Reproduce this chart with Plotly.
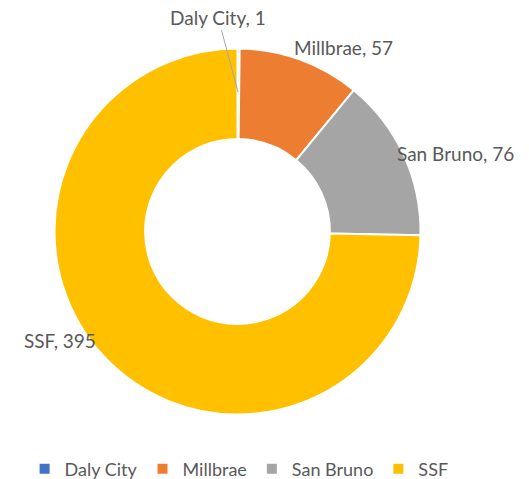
import plotly.graph_objects as go

cities = ["Daly City", "Millbrae", "San Bruno", "SSF"]
counts = [1, 57, 76, 395]
colors = ["#4472C4", "#ED7D31", "#A5A5A5", "#FFC000"]

# label placement (pixel centres in the 529x479 page)
label_pos = [(218, 17), (343, 47), (455, 153), (60, 340)]

W, H = 529, 479
cx, cy, R = 237.5, 231.5, 183
FONT = "Lato, Carlito, Calibri, sans-serif"
GREY = "#595959"

fig = go.Figure(go.Pie(
    labels=cities,
    values=counts,
    hole=0.505,
    sort=False,
    direction="clockwise",
    rotation=0,
    marker=dict(colors=colors, line=dict(color="white", width=2)),
    textinfo="none",
    domain=dict(x=[(cx - R) / W, (cx + R) / W], y=[(H - cy - R) / H, (H - cy + R) / H]),
    showlegend=True,
    hoverinfo="label+value",
))

annotations = []
for i, (name, val) in enumerate(zip(cities, counts)):
    px, py = label_pos[i]
    if i == 0:
        # leader line from the thin slice to its label
        tx, ty = 238, 92
        annotations.append(dict(
            x=tx / W, y=1 - ty / H, xref="paper", yref="paper",
            text=f"{name}, {val}", showarrow=True, arrowhead=0, arrowwidth=1,
            arrowcolor="#A6A6A6", ax=px - tx, ay=py - ty, standoff=0,
            font=dict(family=FONT, size=19, color=GREY)))
    else:
        annotations.append(dict(
            x=px / W, y=1 - py / H, xref="paper", yref="paper",
            text=f"{name}, {val}", showarrow=False,
            xanchor="center", yanchor="middle",
            font=dict(family=FONT, size=19, color=GREY)))

fig.update_layout(
    width=W, height=H,
    margin=dict(l=0, r=0, t=0, b=0, autoexpand=False),
    paper_bgcolor="white",
    plot_bgcolor="white",
    annotations=annotations,
    legend=dict(orientation="h", x=0.452, xanchor="center", y=1 - 469 / H, yanchor="middle",
                font=dict(family=FONT, size=18, color=GREY),
                itemwidth=30, traceorder="normal", tracegroupgap=0),
)

fig.write_html("out.html")
